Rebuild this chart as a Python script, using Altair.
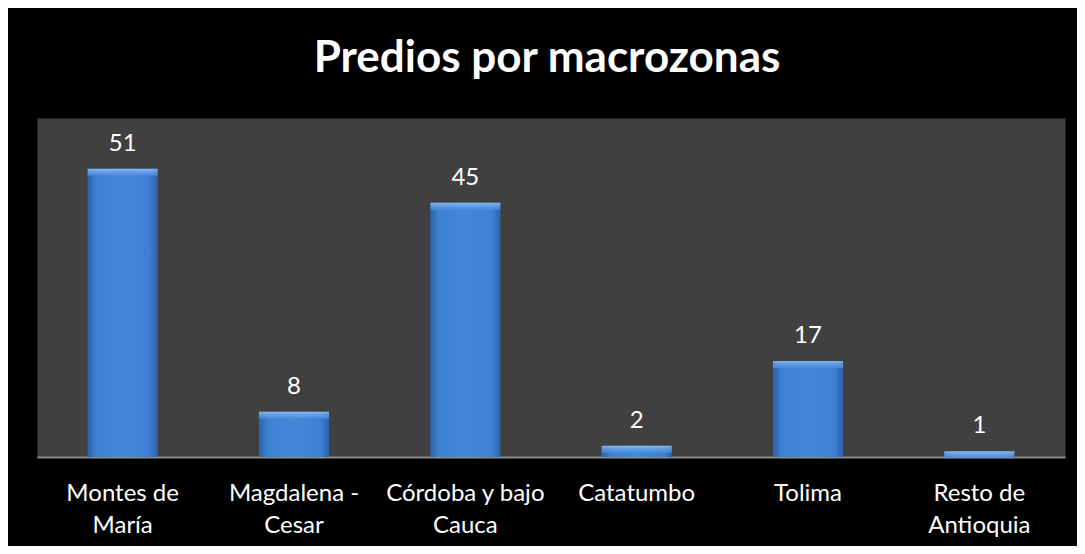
import altair as alt
import pandas as pd

categories = ["Montes de María", "Magdalena - Cesar", "Córdoba y bajo Cauca",
              "Catatumbo", "Tolima", "Resto de Antioquia"]
axis_labels = ["Montes de|María", "Magdalena -|Cesar", "Córdoba y bajo|Cauca",
               "Catatumbo", "Tolima", "Resto de|Antioquia"]
values = [51, 8, 45, 2, 17, 1]

df = pd.DataFrame({"cat": axis_labels, "value": values})

FONT = "Lato"

x = alt.X("cat:N", sort=None, title=None,
          scale=alt.Scale(paddingInner=0.59, paddingOuter=0.295),
          axis=alt.Axis(labelAngle=0, labelFont=FONT, labelFontSize=24,
                        labelColor="white", labelBaseline="alphabetic",
                        labelPadding=43, labelLineHeight=32, labelLimit=0,
                        labelExpr="split(datum.label, '|')",
                        ticks=False, domainColor="#8c8c8c", domainWidth=2,
                        grid=False))
y = alt.Y("value:Q", scale=alt.Scale(domain=[0, 60], nice=False), axis=None)

body_grad = alt.LinearGradient(
    gradient="linear", x1=0, x2=1, y1=0, y2=0,
    stops=[alt.GradientStop(color="#2c62a8", offset=0),
           alt.GradientStop(color="#3f80d2", offset=0.12),
           alt.GradientStop(color="#4488d8", offset=0.5),
           alt.GradientStop(color="#3f80d2", offset=0.88),
           alt.GradientStop(color="#2c62a8", offset=1)])

bevel_grad = alt.LinearGradient(
    gradient="linear", x1=0, x2=0, y1=0, y2=1,
    stops=[alt.GradientStop(color="#a6cdf5", offset=0),
           alt.GradientStop(color="#6ea7ea", offset=0.5),
           alt.GradientStop(color="#4a8be0", offset=1)])

bars = alt.Chart(df).mark_bar(color=body_grad).encode(x=x, y=y)
bevel = alt.Chart(df).mark_tick(color=bevel_grad, size=70, thickness=7, yOffset=3.5).encode(x=x, y=y)
labels = alt.Chart(df).mark_text(font=FONT, fontSize=24, color="white", dy=-18,
                                 baseline="alphabetic").encode(x=x, y=y, text="value:Q")

chart = (bars + bevel + labels).properties(
    width=1028, height=339,
    background="black",
    autosize=alt.AutoSizeParams(type="none"),
    padding={"left": 29, "top": 110, "right": 12, "bottom": 89},
    title=alt.TitleParams("Predios por macrozonas", font=FONT, fontSize=44,
                          fontWeight="bold", color="white", anchor="middle",
                          baseline="alphabetic", offset=2, dx=-4),
).configure_view(fill="#404040", stroke="transparent")

chart.save("out.html", embed_options={"renderer": "svg", "actions": False})
